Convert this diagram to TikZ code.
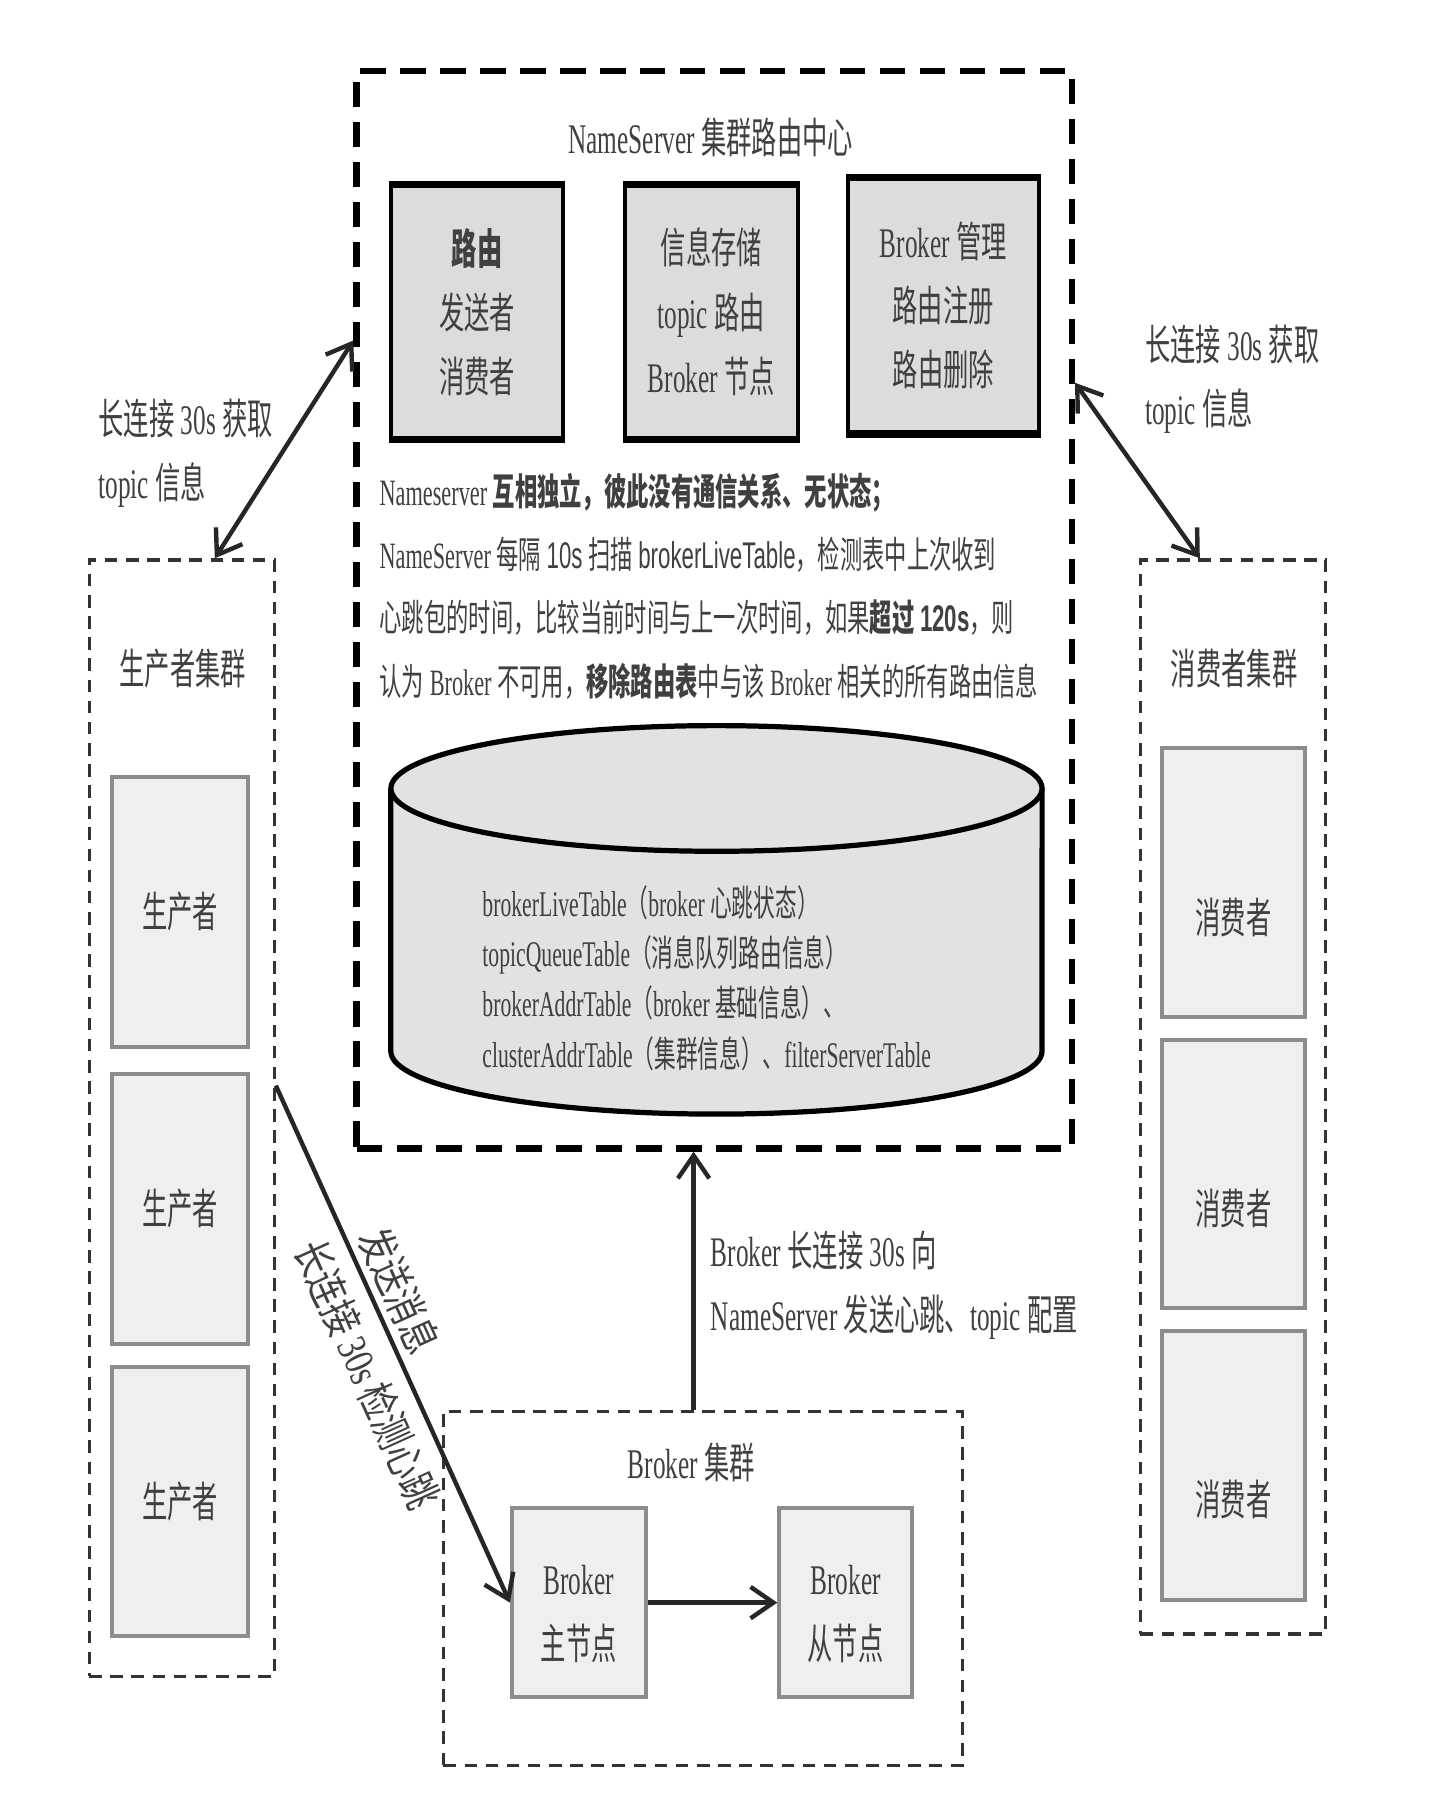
\documentclass[tikz,border=0pt]{standalone}
\usepackage{fontspec}
\setmainfont{Liberation Serif}[FakeStretch=0.6]
\newfontfamily\cjk{Noto Sans CJK SC}[FakeStretch=0.6]
\newfontfamily\cjkwide{Noto Sans CJK SC}[FakeStretch=0.78]
\newfontfamily\serifwide{Liberation Serif}[FakeStretch=0.78]
\newfontfamily\lsans{Liberation Sans}[FakeStretch=0.6]
\usetikzlibrary{arrows.meta,positioning,fit}

\definecolor{txtgray}{HTML}{404040}
\definecolor{boxfill}{HTML}{DCDCDC}
\definecolor{cylfill}{HTML}{E2E2E2}
\definecolor{memberfill}{HTML}{EFEFEF}
\definecolor{memberline}{HTML}{8C8C8C}

\newcommand{\zh}[1]{{\cjk #1}}
\newcommand{\zhb}[1]{{\cjk\bfseries #1}}
\newcommand{\zhw}[1]{{\cjkwide #1}}
\newcommand{\bigfont}{\fontsize{21}{32}\selectfont}
\newcommand{\notefont}{\fontsize{18.5}{31.5}\selectfont}
\newcommand{\tablefont}{\fontsize{18}{25}\selectfont}

\tikzset{
  outerbox/.style={draw=black, line width=3.2pt, dash pattern=on 0.44cm off 0.26cm, inner sep=0pt},
  clusterbox/.style={draw=black!80, line width=1.6pt, dash pattern=on 0.22cm off 0.15cm, inner sep=0pt},
  funcbox/.style={draw=black, line width=2pt, fill=boxfill, inner sep=0pt},
  memberbox/.style={draw=memberline, line width=2pt, fill=memberfill, inner sep=0pt},
  boxtext/.style={font=\bigfont, text=txtgray, align=center},
  plaintext/.style={font=\bigfont, text=txtgray, align=left},
  conn/.style={line width=2.2pt, black!85},
}

\begin{document}
\begin{tikzpicture}[x=0.02cm, y=-0.02cm, >={Straight Barb[length=4mm,width=5.5mm]}]
  \useasboundingbox (0,0) rectangle (1250,1577);

  % NameServer
  \node[outerbox, fit={(312,62) (938,1005)}] (ns) {};
  \node[plaintext] (nstitle) at (622,120) {NameServer \zh{集群路由中心}};
  \node[funcbox, fit={(342,163) (493,383)}] (route) {};
  \node[funcbox, fit={(547,163) (698,383)}] (info) {};
  \node[funcbox, fit={(742,157) (909,378)}] (manage) {};
  \foreach \b in {route,info,manage}
    \draw[line width=3.6pt] (\b.north west) -- (\b.north east) (\b.south west) -- (\b.south east);
  \node[boxtext] (routetxt) at (route.center) {\zhb{路由}\\\zh{发送者}\\\zh{消费者}};
  \node[boxtext] (infotxt) at (info.center) {\zh{信息存储}\\topic \zh{路由}\\Broker \zh{节点}};
  \node[boxtext] (managetxt) at (manage.center) {Broker \zh{管理}\\\zh{路由注册}\\\zh{路由删除}};
  \node[font=\notefont, text=txtgray, align=left, anchor=west] (nsnote) at (326,513) {%
    Nameserver \zhb{互相独立，彼此没有通信关系、无状态；}\\
    NameServer \zh{每隔} {\lsans 10s} \zh{扫描} {\lsans brokerLiveTable}\zh{，检测表中上次收到}\\
    \zh{心跳包的时间，比较当前时间与上一次时间，如果}\zhb{超过} {\lsans\bfseries 120s}\zh{，则}\\
    \zh{认为} Broker \zh{不可用，}\zhb{移除路由表}\zh{中与该} Broker \zh{相关的所有路由信息}};

  % cylinder
  \draw[line width=2.6pt, fill=cylfill] (342,690) -- (342,920)
    arc[start angle=180, end angle=360, x radius=5.7cm, y radius=1.1cm] -- (912,690);
  \draw[line width=2.6pt, fill=cylfill] (627,690) ellipse [x radius=5.7cm, y radius=1.1cm];
  \node[font=\tablefont, text=txtgray, align=left, anchor=west] (tables) at (416,856) {%
    brokerLiveTable\zh{（}broker \zh{心跳状态）}\\
    topicQueueTable\zh{（消息队列路由信息）}\\
    brokerAddrTable\zh{（}broker \zh{基础信息）、}\\
    clusterAddrTable\zh{（集群信息）、}filterServerTable};

  % producers
  \node[clusterbox, fit={(78,490) (240,1467)}] (prodcl) {};
  \node[plaintext] (prodtitle) at (160,585) {\zh{生产者集群}};
  \foreach \y/\n in {680/1, 940/2, 1196/3} {
    \node[memberbox, fit={(98,\y) (217,\y+236)}] (p\n) {};
    \node[boxtext] at (p\n.center) {\zh{生产者}};
  }

  % consumers
  \node[clusterbox, fit={(998,490) (1160,1430)}] (concl) {};
  \node[plaintext] (contitle) at (1080,585) {\zh{消费者集群}};
  \foreach \y/\n in {655/1, 910/2, 1165/3} {
    \node[memberbox, fit={(1017,\y) (1142,\y+235)}] (c\n) {};
    \node[boxtext, yshift=-0.6cm] at (c\n.center) {\zh{消费者}};
  }

  % brokers
  \node[clusterbox, fit={(388,1235) (842,1545)}] (brkcl) {};
  \node[plaintext] (brktitle) at (605,1280) {Broker \zh{集群}};
  \node[memberbox, fit={(448,1320) (565,1485)}] (master) {};
  \node[memberbox, fit={(682,1320) (798,1485)}] (slave) {};
  \node[boxtext, yshift=-0.2cm] (mastertxt) at (master.center) {Broker\\\zh{主节点}};
  \node[boxtext, yshift=-0.2cm] (slavetxt) at (slave.center) {Broker\\\zh{从节点}};
  \draw[conn, ->] (master) -- (slave);

  % connections
  \coordinate (pcin) at (prodcl.north -| 188,0);
  \coordinate (nsl) at (ns.west |- 0,298);
  \coordinate (nsr) at (ns.east |- 0,335);
  \coordinate (ccin) at (concl.north -| 1050,0);
  \coordinate (pcout) at (prodcl.east |- 0,950);
  \coordinate (bkup) at (brkcl.north -| 607,0);
  \coordinate (nsdown) at (ns.south -| 607,0);

  \draw[conn, <->] (pcin) -- (nsl);
  \draw[conn, <->] (nsr) -- (ccin);
  \draw[conn, ->] (bkup) -- (nsdown);
  \draw[conn, ->] (pcout) -- (master.west)
    node[sloped, above, pos=0.42, inner sep=3pt, font=\bigfont, text=txtgray] {\zhw{发送消息}}
    node[sloped, below, pos=0.53, inner sep=7pt, font=\bigfont, text=txtgray] {\zhw{长连接} {\serifwide 30s} \zhw{检测心跳}};

  \node[plaintext, anchor=west] (leftnote) at (80,397) {\zh{长连接} 30s \zh{获取}\\topic \zh{信息}};
  \node[plaintext, anchor=west] (rightnote) at (996,332) {\zh{长连接} 30s \zh{获取}\\topic \zh{信息}};
  \node[plaintext, anchor=west] (brknote) at (616,1125) {Broker \zh{长连接} 30s \zh{向}\\NameServer \zh{发送心跳、}topic \zh{配置}};
\end{tikzpicture}
\end{document}
